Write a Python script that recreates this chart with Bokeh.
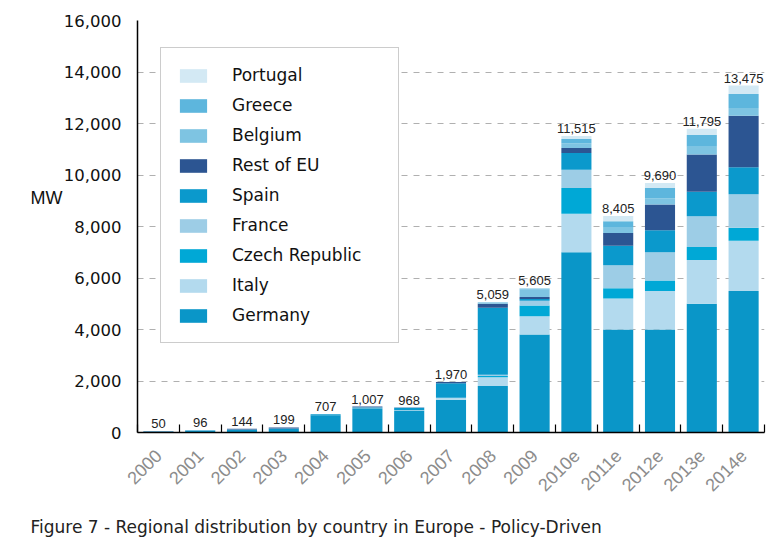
from bokeh.plotting import figure
from bokeh.models import (ColumnDataSource, FixedTicker, NumeralTickFormatter,
                          Legend, LegendItem, Range1d, LinearAxis, Title)
from bokeh.core.properties import value
from bokeh.embed import file_html
from bokeh.resources import INLINE
import math

years = ["2000", "2001", "2002", "2003", "2004", "2005", "2006", "2007",
         "2008", "2009", "2010e", "2011e", "2012e", "2013e", "2014e"]

germany  = [40, 55, 110, 150, 670, 940, 850, 1270, 1809, 3806, 7000, 4000, 4000, 5000, 5500]
italy    = [0, 5, 0, 0, 4, 0, 13, 70, 338, 711, 1500, 1200, 1500, 1700, 1950]
czech    = [0, 0, 0, 0, 0, 0, 0, 3, 51, 411, 1000, 400, 400, 500, 500]
france   = [0, 0, 0, 0, 0, 20, 8, 10, 46, 185, 700, 900, 1100, 1200, 1300]
spain    = [2, 6, 9, 10, 33, 23, 88, 560, 2605, 69, 650, 750, 850, 950, 1050]
rest_eu  = [8, 0, 25, 39, 0, 24, 9, 50, 150, 80, 200, 500, 1000, 1450, 2000]
belgium  = [0, 0, 0, 0, 0, 0, 0, 0, 48, 292, 180, 200, 250, 300, 300]
greece   = [0, 30, 0, 0, 0, 0, 0, 2, 11, 36, 170, 250, 400, 450, 550]
portugal = [0, 0, 0, 0, 0, 0, 0, 5, 1, 15, 115, 205, 190, 245, 325]

totals = [50, 96, 144, 199, 707, 1007, 968, 1970, 5059, 5605,
          11515, 8405, 9690, 11795, 13475]
total_labels = ["50", "96", "144", "199", "707", "1,007", "968", "1,970", "5,059",
                "5,605", "11,515", "8,405", "9,690", "11,795", "13,475"]

series = ["Germany", "Italy", "Czech Republic", "France", "Spain",
          "Rest of EU", "Belgium", "Greece", "Portugal"]
colors = ["#0a96c8", "#b3daee", "#00a8d6", "#9dcde6", "#0b99cc",
          "#2c5592", "#7ec4e2", "#5db6dd", "#d3e9f4"]
y_ticks = [0, 2000, 4000, 6000, 8000, 10000, 12000, 14000, 16000]

unit_label = "MW"
unit_label_at = 9100
caption = "Figure 7 - Regional distribution by country in Europe - Policy-Driven"

xs = list(range(len(years)))
data = {"x": xs}
for name, vals in zip(series, [germany, italy, czech, france, spain,
                               rest_eu, belgium, greece, portugal]):
    data[name] = vals
source = ColumnDataSource(data)
lab_src = ColumnDataSource(dict(x=xs, y=totals, t=total_labels))

p = figure(width=772, height=540, output_backend="svg", toolbar_location=None,
           x_range=Range1d(-0.5, len(years) - 0.5), y_range=Range1d(0, 16000),
           min_border_left=137, min_border_right=8, min_border_top=20,
           min_border_bottom=108)
p.outline_line_color = None
p.background_fill_color = "white"

renderers = p.vbar_stack(series, x="x", width=0.72, color=colors,
                         line_color=None, source=source)

p.text(x="x", y="y", text="t", source=lab_src, text_align="center",
       text_baseline="bottom", y_offset=-3, text_font=value("Liberation Sans"),
       text_font_size="13px", text_color="#222222")

# x axis
p.xaxis.ticker = FixedTicker(ticks=xs, minor_ticks=[i + 0.5 for i in range(-1, len(years))])
p.xaxis.major_label_overrides = {i: y for i, y in enumerate(years)}
p.xaxis.major_label_orientation = math.pi / 4
p.xaxis.major_tick_line_color = None
p.xaxis.minor_tick_in = 8
p.xaxis.minor_tick_out = 0
p.xaxis.minor_tick_line_color = "black"
p.xaxis.minor_tick_line_width = 1.2
p.xaxis.axis_line_color = "black"
p.xaxis.axis_line_width = 1.5
p.xaxis.major_label_text_color = "#8c8c8c"
p.xaxis.major_label_text_font = "Liberation Sans"
p.xaxis.major_label_text_font_size = "18px"
p.xaxis.major_label_standoff = 14
# invisible spacer label to push the caption down
p.xaxis.axis_label = " "
p.xaxis.axis_label_text_font_size = "2px"
p.xaxis.axis_label_standoff = 9

# y axis
p.yaxis.ticker = FixedTicker(ticks=y_ticks)
p.yaxis.formatter = NumeralTickFormatter(format="0,0")
p.yaxis.major_tick_line_color = None
p.yaxis.minor_tick_line_color = None
p.yaxis.axis_line_color = "black"
p.yaxis.axis_line_width = 1.5
p.yaxis.major_label_text_color = "#111111"
p.yaxis.major_label_text_font = "DejaVu Sans"
p.yaxis.major_label_text_font_size = "16.5px"
p.yaxis.major_label_standoff = 10

# unit label as an outer left axis with a single labelled tick
unit_axis = LinearAxis(ticker=FixedTicker(ticks=[unit_label_at]),
                       major_label_overrides={unit_label_at: unit_label},
                       axis_line_color=None, major_tick_line_color=None,
                       minor_tick_line_color=None, major_label_standoff=-8,
                       major_label_text_font="Liberation Sans",
                       major_label_text_font_size="18px",
                       major_label_text_color="#111111")
p.add_layout(unit_axis, "left")

p.xgrid.visible = False
p.ygrid.ticker = FixedTicker(ticks=y_ticks)
p.ygrid.grid_line_color = "#b0b0b0"
p.ygrid.grid_line_dash = "6 6"
p.ygrid.grid_line_width = 1

items = [LegendItem(label=name, renderers=[r]) for name, r in zip(series, renderers)]
items.reverse()
legend = Legend(items=items, location=(23, 89), orientation="vertical",
                glyph_width=34, glyph_height=17, label_height=24,
                label_width=151, label_standoff=22, spacing=6, padding=15,
                margin=0, border_line_color="#999999", border_line_width=1,
                background_fill_color="white", background_fill_alpha=1.0,
                label_text_font="DejaVu Sans", label_text_font_size="17px",
                label_text_color="#111111")
p.add_layout(legend, "center")

p.add_layout(Title(text=caption, align="left", offset=-107, standoff=0,
                   text_font="DejaVu Sans", text_font_size="17px",
                   text_font_style="normal", text_color="#222222"), "below")

open("out.html", "w").write(file_html(p, INLINE))
